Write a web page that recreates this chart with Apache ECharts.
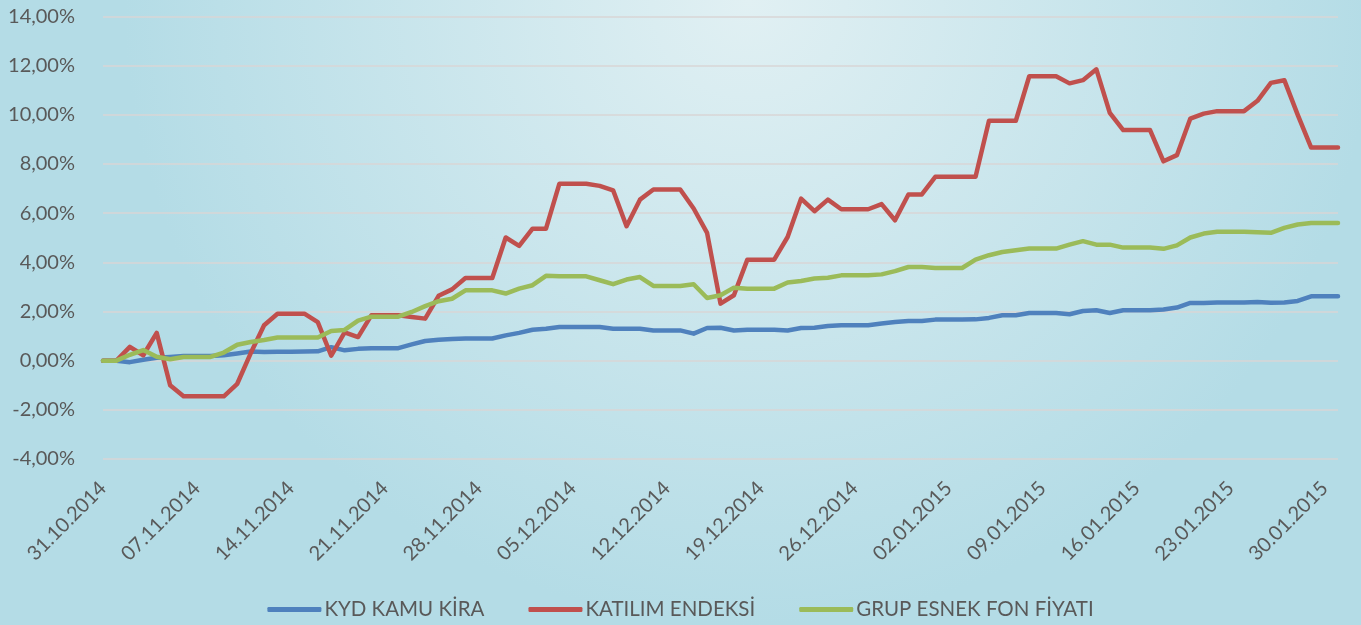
<!DOCTYPE html>
<html>
<head>
<meta charset="utf-8">
<script src="https://cdn.jsdelivr.net/npm/echarts@6/dist/echarts.min.js"></script>
<style>
html,body{margin:0;padding:0;width:1361px;height:625px;overflow:hidden;}
#c{width:1361px;height:625px;}
</style>
</head>
<body>
<div id="c"></div>
<script>
const dates = [
"31.10.2014",
"01.11.2014","02.11.2014","03.11.2014","04.11.2014","05.11.2014","06.11.2014","07.11.2014","08.11.2014","09.11.2014","10.11.2014",
"11.11.2014","12.11.2014","13.11.2014","14.11.2014","15.11.2014","16.11.2014","17.11.2014","18.11.2014","19.11.2014","20.11.2014",
"21.11.2014","22.11.2014","23.11.2014","24.11.2014","25.11.2014","26.11.2014","27.11.2014","28.11.2014","29.11.2014","30.11.2014",
"01.12.2014","02.12.2014","03.12.2014","04.12.2014","05.12.2014","06.12.2014","07.12.2014","08.12.2014","09.12.2014","10.12.2014",
"11.12.2014","12.12.2014","13.12.2014","14.12.2014","15.12.2014","16.12.2014","17.12.2014","18.12.2014","19.12.2014","20.12.2014",
"21.12.2014","22.12.2014","23.12.2014","24.12.2014","25.12.2014","26.12.2014","27.12.2014","28.12.2014","29.12.2014","30.12.2014","31.12.2014",
"01.01.2015","02.01.2015","03.01.2015","04.01.2015","05.01.2015","06.01.2015","07.01.2015","08.01.2015","09.01.2015","10.01.2015",
"11.01.2015","12.01.2015","13.01.2015","14.01.2015","15.01.2015","16.01.2015","17.01.2015","18.01.2015","19.01.2015","20.01.2015",
"21.01.2015","22.01.2015","23.01.2015","24.01.2015","25.01.2015","26.01.2015","27.01.2015","28.01.2015","29.01.2015","30.01.2015","31.01.2015"
];

const seriesNames = ["KYD KAMU KİRA", "KATILIM ENDEKSİ", "GRUP ESNEK FON FİYATI"];

const kydKamuKira = [
0.00,0.00,-0.06,0.04,0.12,0.15,0.19,0.19,0.19,0.22,
0.29,0.37,0.35,0.36,0.36,0.37,0.38,0.55,0.42,0.48,
0.51,0.51,0.51,0.66,0.80,0.85,0.88,0.90,0.90,0.90,
1.03,1.13,1.26,1.30,1.37,1.37,1.37,1.37,1.30,1.30,
1.30,1.23,1.23,1.23,1.10,1.33,1.34,1.23,1.26,1.26,
1.26,1.23,1.33,1.34,1.41,1.44,1.44,1.44,1.51,1.57,
1.61,1.61,1.67,1.67,1.67,1.68,1.74,1.85,1.85,1.94,
1.94,1.94,1.89,2.02,2.05,1.94,2.05,2.05,2.05,2.08,
2.16,2.35,2.35,2.37,2.37,2.37,2.39,2.36,2.37,2.43,
2.62,2.62,2.62
];

const katilimEndeksi = [
0.00,0.00,0.56,0.22,1.13,-1.00,-1.45,-1.45,-1.45,-1.45,
-0.94,0.30,1.44,1.91,1.91,1.91,1.57,0.20,1.15,0.96,
1.85,1.85,1.85,1.78,1.71,2.64,2.90,3.36,3.36,3.36,
5.01,4.67,5.37,5.37,7.20,7.20,7.20,7.11,6.93,5.47,
6.55,6.96,6.96,6.96,6.19,5.20,2.32,2.66,4.11,4.11,
4.11,5.03,6.59,6.08,6.55,6.16,6.16,6.16,6.37,5.71,
6.76,6.76,7.48,7.48,7.48,7.48,9.76,9.76,9.76,11.57,
11.57,11.57,11.28,11.41,11.85,10.08,9.38,9.38,9.38,8.11,
8.36,9.85,10.05,10.15,10.15,10.15,10.57,11.30,11.41,10.00,
8.67,8.67,8.67
];

const grupEsnekFon = [
0.00,0.00,0.24,0.43,0.16,0.06,0.15,0.15,0.15,0.33,
0.65,0.76,0.84,0.94,0.94,0.94,0.94,1.21,1.25,1.63,
1.79,1.79,1.79,1.98,2.22,2.42,2.52,2.86,2.86,2.86,
2.73,2.93,3.07,3.45,3.43,3.43,3.43,3.27,3.11,3.30,
3.40,3.04,3.04,3.04,3.11,2.55,2.66,2.97,2.93,2.93,
2.93,3.18,3.24,3.34,3.37,3.47,3.47,3.47,3.51,3.64,
3.81,3.81,3.77,3.77,3.77,4.11,4.29,4.42,4.49,4.56,
4.56,4.56,4.72,4.86,4.72,4.72,4.60,4.60,4.60,4.55,
4.69,5.01,5.17,5.24,5.24,5.24,5.22,5.20,5.40,5.54,
5.60,5.60,5.60
];

const colors = ["#4f81bd", "#c0504d", "#9bbb59"];
const FONT = "Lato";
const TEXT = "#595959";

const chart = echarts.init(document.getElementById('c'), null, {renderer: 'canvas'});

function mk(name, data, color) {
  return {
    name: name, type: 'line', data: data, symbol: 'none', smooth: false,
    lineStyle: {color: color, width: 4.5, cap: 'round', join: 'round'},
    itemStyle: {color: color}
  };
}

chart.setOption({
  backgroundColor: {
    type: 'radial', x: 0.55, y: 0.0, r: 1.0,
    colorStops: [
      {offset: 0, color: '#e1f0f3'},
      {offset: 1, color: '#b4dce6'}
    ]
  },
  animation: false,
  textStyle: {fontFamily: FONT},
  grid: {left: 103, right: 23, top: 16.5, bottom: 166, containLabel: false},
  legend: {
    data: seriesNames,
    bottom: 0,
    left: 'center',
    icon: 'roundRect',
    itemWidth: 54,
    itemHeight: 5,
    itemGap: 44,
    textStyle: {color: TEXT, fontSize: 20.5, fontFamily: FONT, padding: [0,0,0,-2]}
  },
  xAxis: {
    type: 'category',
    data: dates,
    boundaryGap: false,
    axisLine: {show: false},
    axisTick: {show: false},
    axisLabel: {
      interval: 6, rotate: 45, margin: 26,
      color: TEXT, fontSize: 20, fontFamily: FONT
    },
    splitLine: {show: false}
  },
  yAxis: {
    type: 'value',
    min: -4, max: 14, interval: 2,
    axisLine: {show: false},
    axisTick: {show: false},
    axisLabel: {
      margin: 28, color: TEXT, fontSize: 20, fontFamily: FONT,
      formatter: function (v) { return v.toFixed(2).replace('.', ',') + '%'; }
    },
    splitLine: {show: true, lineStyle: {color: '#d9d6d6', width: 1.5}}
  },
  series: [
    mk(seriesNames[0], kydKamuKira, colors[0]),
    mk(seriesNames[1], katilimEndeksi, colors[1]),
    mk(seriesNames[2], grupEsnekFon, colors[2])
  ]
});
</script>
</body>
</html>
